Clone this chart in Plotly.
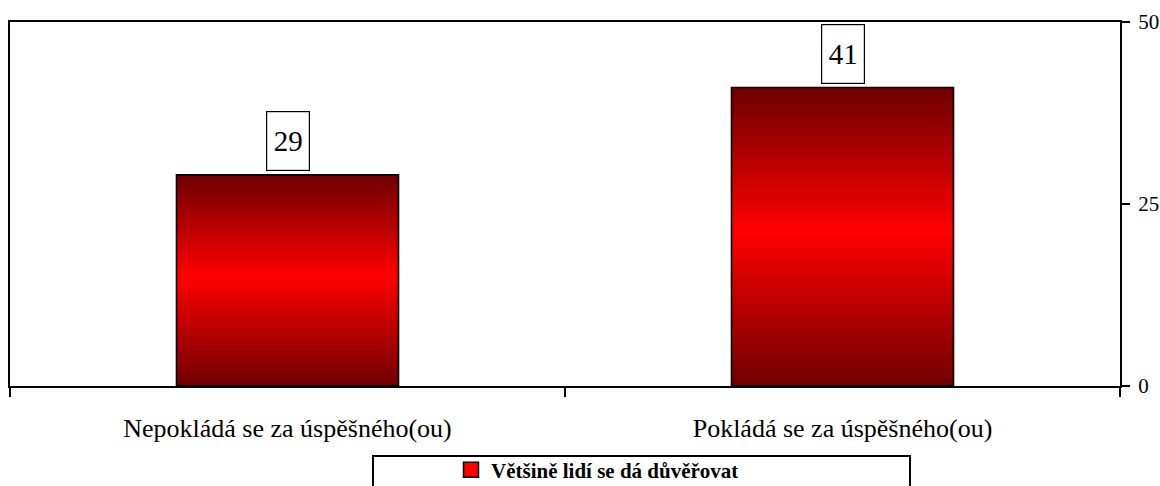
import plotly.graph_objects as go

categories = ["Nepokládá se za úspěšného(ou)", "Pokládá se za úspěšného(ou)"]
values = [29, 41]
series_name = "Většině lidí se dá důvěřovat"
y_ticks = [0, 25, 50]

FONT = "Liberation Serif, Times New Roman, serif"
N = 60
DARK_TOP, DARK_BOT, PEAK_T = 112, 108, 0.47


def seg_color(t):
    # t: 0 at top of bar, 1 at bottom
    if t <= PEAK_T:
        r = DARK_TOP + (255 - DARK_TOP) * (t / PEAK_T)
    else:
        r = 255 - (255 - DARK_BOT) * ((t - PEAK_T) / (1 - PEAK_T))
    return f"rgb({int(round(r))},0,0)"


fig = go.Figure()
for k in range(N):
    f = (k + 0.5) / N
    col = seg_color(1 - f)
    bases = [v * max(0, k - 0.6) / N for v in values]
    tops = [v * (k + 1) / N for v in values]
    fig.add_trace(go.Bar(
        x=categories,
        y=[t - b for t, b in zip(tops, bases)],
        base=bases,
        width=0.4,
        marker=dict(color=col, line=dict(width=0)),
        showlegend=False, hoverinfo="skip",
    ))

# outline of each bar
fig.add_trace(go.Bar(
    x=categories, y=values, width=0.4,
    marker=dict(color="rgba(0,0,0,0)", line=dict(color="black", width=1.6)),
    showlegend=False, hoverinfo="skip",
))

# legend entry
fig.add_trace(go.Scatter(
    x=categories, y=[None, None], name=series_name, mode="markers",
    marker=dict(symbol="square", size=15, color="red", line=dict(color="black", width=1.5)),
    showlegend=True,
))

for c, v in zip(categories, values):
    fig.add_annotation(
        x=c, y=v, xref="x", yref="y", text=str(v),
        showarrow=False, yanchor="bottom", yshift=4,
        font=dict(family=FONT, size=29, color="black"),
        bgcolor="white", bordercolor="black", borderwidth=1.2, borderpad=2,
        width=38, height=54,
    )

# legend frame
fig.add_shape(type="rect", xref="paper", yref="paper",
              x0=(373 - 10) / 1110, x1=(910 - 10) / 1110,
              y0=(386 - 500) / 364, y1=(386 - 456) / 364,
              line=dict(color="black", width=2), fillcolor="rgba(0,0,0,0)")

fig.update_layout(
    width=1160, height=486,
    margin=dict(l=10, r=40, t=22, b=100, autoexpand=False),
    barmode="overlay",
    paper_bgcolor="white", plot_bgcolor="white",
    font=dict(family=FONT, color="black"),
    showlegend=True,
    legend=dict(
        orientation="h", x=(451 - 10) / 1110, xanchor="left",
        y=(386 - 470) / 364, yanchor="middle",
        font=dict(family=FONT, size=21, color="black", weight="bold"),
        bgcolor="rgba(0,0,0,0)", borderwidth=0,
    ),
    xaxis=dict(
        type="category", range=[-0.5, 1.5],
        showline=True, linecolor="black", linewidth=2, mirror=True,
        ticks="outside", tickson="boundaries", ticklen=9, tickwidth=1.5, tickcolor="black",
        tickfont=dict(family=FONT, size=26, color="black"),
        ticklabelstandoff=18, showgrid=False, zeroline=False,
    ),
    yaxis=dict(
        range=[0, 50], side="right", tickvals=y_ticks,
        showline=True, linecolor="black", linewidth=2, mirror=True,
        ticks="outside", ticklen=8, tickwidth=1.5, tickcolor="black",
        tickfont=dict(family=FONT, size=21, color="black"),
        ticklabelstandoff=4, showgrid=False, zeroline=False,
    ),
)

fig.write_html(
    "out.html",
    config={"displayModeBar": False},
    post_script="document.body.style.margin='0';document.body.style.overflow='hidden';",
)
